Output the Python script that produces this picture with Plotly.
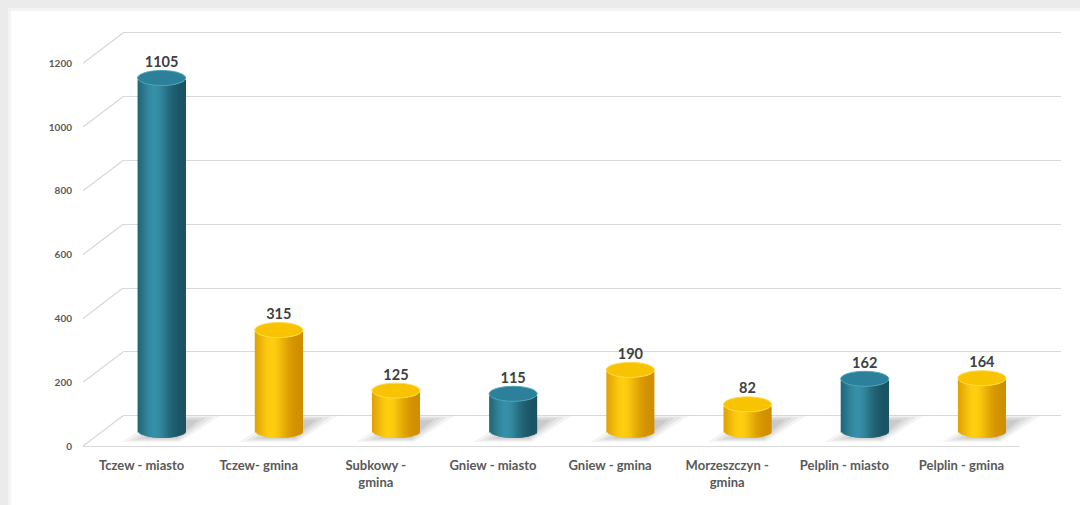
import math
import plotly.graph_objects as go

# ---------------- data ----------------
categories = ["Tczew - miasto", "Tczew- gmina", "Subkowy -<br>gmina", "Gniew - miasto",
              "Gniew - gmina", "Morzeszczyn -<br>gmina", "Pelplin - miasto", "Pelplin - gmina"]
values = [1105, 315, 125, 115, 190, 82, 162, 164]
kinds = ["teal", "gold", "gold", "teal", "gold", "gold", "teal", "gold"]
y_ticks = [0, 200, 400, 600, 800, 1000, 1200]

# ---------------- geometry (pixels of the 1080x505 page) ----------------
W, H = 1080, 505
K = 0.319            # pixels per unit
FRONT = dict(x0=83, x1=1020, y0=446)
BACK = dict(x0=123, x1=1061, y0=415.7)
MID = dict(x0=103, x1=1040.5, y0=430.5)
Y2_RANGE = [-10, 1210]
Y3_RANGE = [-60, 1250]
BAR_W = 0.41
ELL = 23.5           # half height of cylinder ellipse in data units
N_SLICES = 30

def xdom(d):
    return [d["x0"] / W, d["x1"] / W]

def ydom(y0px, r0, r1):
    bottom = y0px - r0 * K
    top = y0px - r1 * K
    return [1 - bottom / H, 1 - top / H]

palette = {
    "teal": dict(dark=(26, 82, 98), light=(54, 144, 168), top="#2c8099", rim="#4aa3bc"),
    "gold": dict(dark=(208, 142, 0), light=(255, 206, 16), top="#f8c300", rim="#ffd84a"),
}

def shade(kind, u):
    p = palette[kind]
    t = math.exp(-((u + 0.3) / 0.65) ** 2)
    if u > 0:
        t *= 1 - 0.15 * u
    c = [int(p["dark"][j] + (p["light"][j] - p["dark"][j]) * t) for j in range(3)]
    return "rgb(%d,%d,%d)" % tuple(c)

fig = go.Figure()

# cylinder bodies as vertical slices (each slice overlaps the next to avoid seams)
sw = BAR_W / N_SLICES
extra = sw * 0.8
for s in range(N_SLICES):
    u = -1 + (2 * s + 1) / N_SLICES
    wdt = sw + (extra if s < N_SLICES - 1 else 0)
    off = -BAR_W / 2 + s * sw + wdt / 2
    depth = ELL * math.sqrt(max(0.0, 1 - u * u))
    fig.add_trace(go.Bar(
        x=[i + off for i in range(len(values))],
        y=values,
        base=[-depth] * len(values),
        width=wdt,
        marker=dict(color=[shade(k, u) for k in kinds], line=dict(width=0)),
        xaxis="x3", yaxis="y3", hoverinfo="skip", showlegend=False,
    ))

# data labels
fig.add_trace(go.Scatter(
    x=list(range(len(values))), y=[v + ELL for v in values],
    mode="text", text=[str(v) for v in values], textposition="top center",
    textfont=dict(family="Lato", size=14.5, color="#404040", weight="bold"),
    xaxis="x3", yaxis="y3", hoverinfo="skip", showlegend=False, cliponaxis=False,
))

# dummy traces to make the front and back axes exist
fig.add_trace(go.Scatter(x=[0], y=[0], mode="markers", marker=dict(opacity=0),
                         xaxis="x", yaxis="y", hoverinfo="skip", showlegend=False))
fig.add_trace(go.Scatter(x=[0], y=[0], mode="markers", marker=dict(opacity=0),
                         xaxis="x2", yaxis="y2", hoverinfo="skip", showlegend=False))

shapes = []
# page frame (soft grey edges)
shapes.append(dict(type="rect", xref="paper", yref="paper", x0=0, x1=8 / W, y0=0, y1=1,
                   fillcolor="#ebebeb", line=dict(width=0), layer="below"))
shapes.append(dict(type="rect", xref="paper", yref="paper", x0=0, x1=1, y0=1 - 8 / H, y1=1,
                   fillcolor="#ebebeb", line=dict(width=0), layer="below"))
shapes.append(dict(type="rect", xref="paper", yref="paper", x0=8 / W, x1=11 / W, y0=0, y1=1 - 8 / H,
                   fillcolor="#f4f4f4", line=dict(width=0), layer="below"))
shapes.append(dict(type="rect", xref="paper", yref="paper", x0=8 / W, x1=1, y0=1 - 11 / H, y1=1 - 8 / H,
                   fillcolor="#f4f4f4", line=dict(width=0), layer="below"))

# side-wall diagonals linking front ticks to back gridlines
for v in y_ticks:
    yf = 1 - (FRONT["y0"] - v * K) / H
    yb = 1 - (BACK["y0"] - v * K) / H
    shapes.append(dict(type="line", xref="paper", yref="paper",
                       x0=FRONT["x0"] / W, y0=yf, x1=BACK["x0"] / W, y1=yb,
                       line=dict(color="#d9d9d9", width=1.3), layer="below"))

# floor shadows (soft, cast toward the back-right)
shadow_layers = [
    ((-0.34, -36), (0.16, -36), (0.50, 46), (0.00, 46), 0.06),
    ((-0.28, -32), (0.15, -32), (0.44, 43), (0.05, 43), 0.07),
    ((-0.22, -28), (0.14, -28), (0.38, 40), (0.10, 40), 0.08),
    ((-0.15, -24), (0.13, -24), (0.32, 34), (0.14, 34), 0.09),
]
for i, v in enumerate(values):
    for (p1, p2, p3, p4, op) in shadow_layers:
        pts = [(i + p[0], p[1]) for p in (p1, p2, p3, p4)]
        path = "M " + " L ".join("%f,%f" % p for p in pts) + " Z"
        shapes.append(dict(type="path", xref="x3", yref="y3", path=path,
                           fillcolor="rgba(60,60,60,%f)" % op, line=dict(width=0), layer="below"))

# cylinder tops
for i, (v, k) in enumerate(zip(values, kinds)):
    shapes.append(dict(type="circle", xref="x3", yref="y3",
                       x0=i - BAR_W / 2, x1=i + BAR_W / 2, y0=v - ELL, y1=v + ELL,
                       fillcolor=palette[k]["top"], line=dict(color=palette[k]["rim"], width=1),
                       layer="above"))

font_fam = "Lato"
fig.update_layout(
    width=W, height=H, margin=dict(l=0, r=0, t=0, b=0, autoexpand=False),
    paper_bgcolor="white", plot_bgcolor="rgba(0,0,0,0)",
    barmode="overlay", showlegend=False, shapes=shapes,
    xaxis=dict(domain=xdom(FRONT), range=[-0.5, 7.5], anchor="y", automargin=False,
               tickvals=list(range(len(categories))), ticktext=categories,
               showgrid=False, zeroline=False, showline=True, linecolor="#d9d9d9", linewidth=1.3,
               ticks="", ticklabelstandoff=7,
               tickfont=dict(family=font_fam, size=13, color="#595959", weight="bold")),
    yaxis=dict(domain=ydom(FRONT["y0"], 0, 1200), range=[0, 1200], anchor="x", automargin=False,
               tickvals=y_ticks, showgrid=False, zeroline=False, showline=False,
               ticks="", ticklabelstandoff=10,
               tickfont=dict(family=font_fam, size=10, color="#595959", weight="bold")),
    xaxis2=dict(domain=xdom(BACK), range=[-0.5, 7.5], anchor="y2", visible=False, automargin=False),
    yaxis2=dict(domain=ydom(BACK["y0"], Y2_RANGE[0], Y2_RANGE[1]), range=Y2_RANGE, anchor="x2",
                automargin=False,
                tickvals=y_ticks, showticklabels=False, showgrid=True, gridcolor="#d9d9d9",
                gridwidth=1.3, zeroline=False, showline=False, ticks=""),
    xaxis3=dict(domain=xdom(MID), range=[-0.5, 7.5], anchor="y3", visible=False, automargin=False),
    yaxis3=dict(domain=ydom(MID["y0"], Y3_RANGE[0], Y3_RANGE[1]), range=Y3_RANGE, anchor="x3",
                visible=False, automargin=False),
)

fig.write_html("out.html", config={"displayModeBar": False},
               post_script="document.body.style.margin='0';document.body.style.padding='0';")
